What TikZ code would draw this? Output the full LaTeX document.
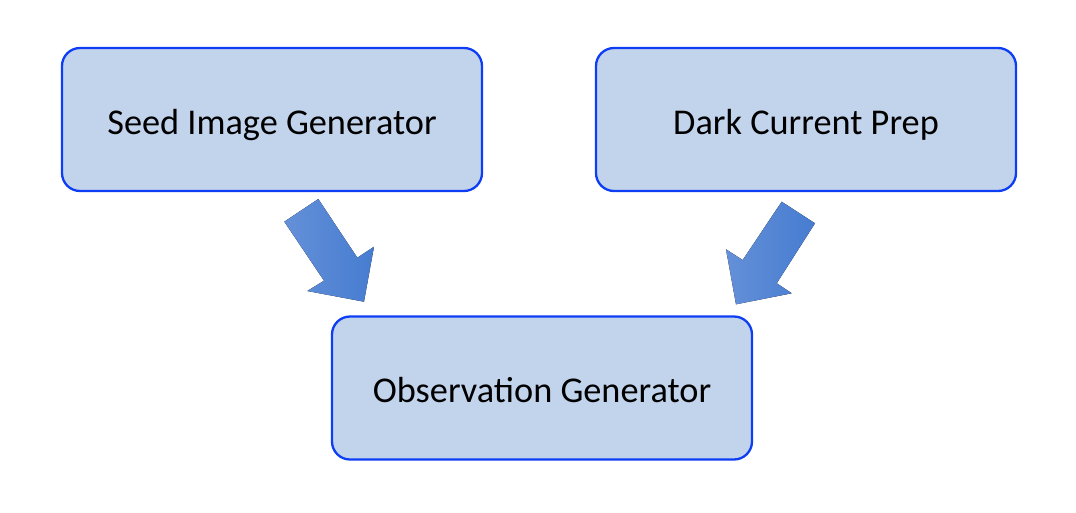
\documentclass[tikz,border=0pt]{standalone}
\usepackage{fontspec}
\setmainfont{Carlito}
\definecolor{boxfill}{RGB}{194,211,236}
\definecolor{boxline}{RGB}{14,62,244}
\definecolor{arrdark}{RGB}{70,124,208}
\definecolor{arrlight}{RGB}{100,144,216}
\tikzset{
  stagebox/.style={draw=boxline, line width=2.3pt, fill=boxfill, rounded corners=18pt,
    minimum width=420pt, minimum height=143pt, inner sep=0pt,
    font=\fontsize{36.3}{42}\selectfont, text=black},
  blockarrow/.style={left color=arrlight, right color=arrdark, draw=none}
}
\newcommand{\boxtext}[1]{\raisebox{-14.5pt}[0pt][0pt]{#1}}
\begin{document}
\begin{tikzpicture}[x=1pt,y=-1pt]
\useasboundingbox (0,0) rectangle (1076,512);
\node[stagebox] (seed) at (272,119.5) {\boxtext{Seed Image Generator}};
\node[stagebox] (dark) at (806,119.5) {\boxtext{Dark Current Prep}};
\node[stagebox] (obs) at (542,388) {\boxtext{Observation Generator}};
% left block arrow: seed -> obs
\fill[blockarrow] (284.3,221.7) -- (318.3,199) -- (357.3,257.7) -- (374,246.7)
  -- (364,301.7) -- (307.3,291) -- (324,280.7) -- cycle;
% right block arrow: dark -> obs
\fill[blockarrow] (781.7,201.7) -- (815,223.3) -- (776.7,283.3) -- (791.7,293.3)
  -- (736,304.3) -- (726,249.3) -- (742.7,260) -- cycle;
\end{tikzpicture}
\end{document}
